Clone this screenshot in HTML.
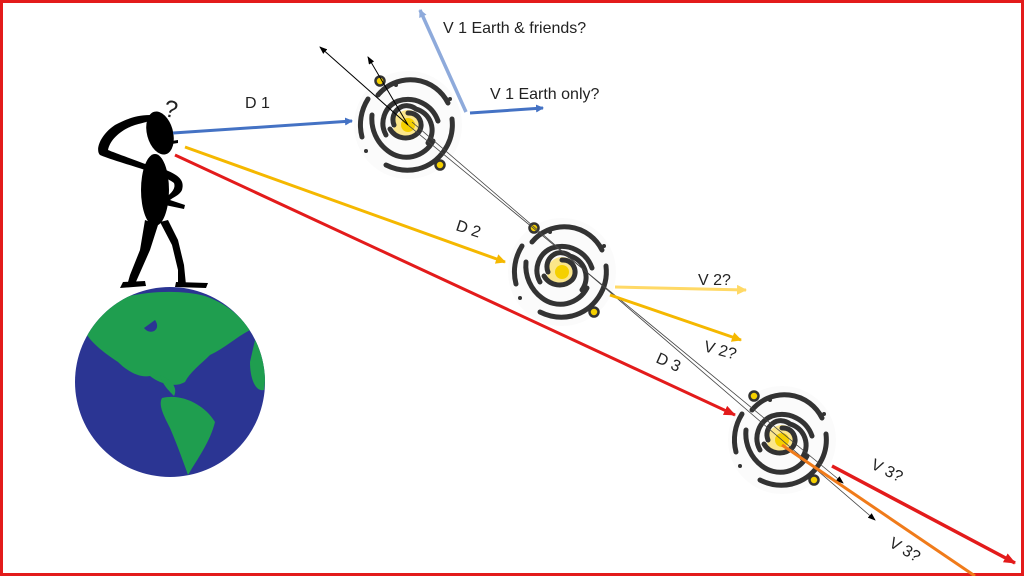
<!DOCTYPE html>
<html><head><meta charset="utf-8"><style>
html,body{margin:0;padding:0;background:#fff}
svg{display:block}
text{font-family:"Liberation Sans",sans-serif;fill:#222}
</style></head><body>
<svg width="1024" height="576" viewBox="0 0 1024 576" xmlns="http://www.w3.org/2000/svg">
<defs>
<clipPath id="ec"><circle cx="170" cy="382" r="95"/></clipPath>
<marker id="ab" markerWidth="8" markerHeight="8" refX="7" refY="4" orient="auto" markerUnits="userSpaceOnUse"><path d="M0,0 L8,4 L0,8 z" fill="#4472c4"/></marker>
<marker id="alb" markerWidth="8" markerHeight="8" refX="7" refY="4" orient="auto" markerUnits="userSpaceOnUse"><path d="M0,0 L8,4 L0,8 z" fill="#8eaadb"/></marker>
<marker id="ay" markerWidth="10" markerHeight="10" refX="9" refY="5" orient="auto" markerUnits="userSpaceOnUse"><path d="M0,0 L10,5 L0,10 z" fill="#f5b800"/></marker>
<marker id="ay2" markerWidth="10" markerHeight="10" refX="9" refY="5" orient="auto" markerUnits="userSpaceOnUse"><path d="M0,0 L10,5 L0,10 z" fill="#ffd966"/></marker>
<marker id="ar" markerWidth="12" markerHeight="10" refX="11" refY="5" orient="auto" markerUnits="userSpaceOnUse"><path d="M0,0 L12,5 L0,10 z" fill="#e31b1b"/></marker>
<marker id="ak" markerWidth="8" markerHeight="6" refX="7" refY="3" orient="auto" markerUnits="userSpaceOnUse"><path d="M0,0 L8,3 L0,6 z" fill="#000"/></marker>
<g id="gal">
<circle r="54" fill="#fbfbfb"/>
<circle r="15" fill="#fbe68a"/>
<circle r="7" fill="#f5d000"/>
<g fill="none" stroke="#333" stroke-width="5" stroke-linecap="round">
<path d="M0,-12 A12,12 0 0 1 10,8 A18,18 0 0 1 -18,4"/>
<path d="M-14,0 A14,14 0 0 1 8,-16 A22,22 0 0 1 20,18"/>
<path d="M-22,10 A24,24 0 0 1 -10,-24 A32,32 0 0 1 30,-4"/>
<path d="M25,16 A30,30 0 0 1 -20,26 A40,40 0 0 1 -36,-10"/>
<path d="M-30,-30 A42,42 0 0 1 40,-22"/>
<path d="M44,-6 A46,46 0 0 1 10,44 A48,48 0 0 1 -22,40"/>
<path d="M-46,12 A48,48 0 0 1 -40,-26"/>
</g>
<circle cx="-28" cy="-44" r="4.5" fill="#f5d000" stroke="#333" stroke-width="2.5"/>
<circle cx="32" cy="40" r="4.5" fill="#f5d000" stroke="#333" stroke-width="2.5"/>
<circle cx="-42" cy="26" r="2" fill="#333"/>
<circle cx="-12" cy="-40" r="2" fill="#333"/>
<circle cx="20" cy="40" r="2" fill="#333"/>
<circle cx="42" cy="-26" r="2" fill="#333"/>
</g>
</defs>
<rect x="1.5" y="1.5" width="1021" height="573" fill="#fff" stroke="#e31b1b" stroke-width="3"/>

<!-- earth -->
<circle cx="170" cy="382" r="95" fill="#2b3593"/>
<g clip-path="url(#ec)">
<path d="M100,305 C130,292 175,288 205,296 C225,303 240,315 250,330 C235,338 225,348 210,355 C200,365 190,372 185,382 C175,388 160,384 150,376 C140,378 128,372 118,362 C103,352 90,342 84,330 C88,318 95,310 100,305 Z" fill="#1f9e4f"/>
<path d="M160,375 C172,380 178,388 174,396 C168,390 162,384 160,375 Z" fill="#1f9e4f"/>
<path d="M162,398 C182,393 205,405 215,422 C210,442 198,458 188,475 C182,458 176,442 170,428 C164,416 158,405 162,398 Z" fill="#1f9e4f"/>
<path d="M255,340 C264,352 267,370 264,390 C256,392 250,380 250,362 Z" fill="#1f9e4f"/>
<path d="M155,320 C162,330 150,336 144,328 Z" fill="#2b3593"/>
</g>

<!-- person -->
<g fill="#000">
<ellipse cx="160" cy="133" rx="13" ry="22" transform="rotate(-15 160 133)"/>
<path d="M165,142 L178,140 L178,143 L165,145 Z"/>
<ellipse cx="155" cy="190" rx="14" ry="36"/>
<path d="M150,115 C135,115 125,120 115,125 C100,135 95,150 100,155 C112,160 130,165 145,170 L148,165 C135,160 115,153 108,150 C110,140 120,130 135,125 C145,122 150,122 152,118 Z"/>
<path d="M166,170 C178,175 185,180 182,190 C180,195 172,198 170,200 L185,205 L184,209 L165,205 L165,198 C172,193 176,188 174,183 C170,180 165,178 163,176 Z"/>
<path d="M145,220 L140,250 L130,275 L128,282 L135,284 L150,250 L158,225 Z"/>
<path d="M160,222 L172,245 L178,270 L178,285 L186,285 L184,265 L178,240 L168,220 Z"/>
<path d="M123,282 L145,281 L146,286 L120,288 Z"/>
<path d="M176,282 L208,283 L206,288 L175,287 Z"/>
</g>
<text x="165" y="117" font-size="24" transform="rotate(10 170 105)">?</text>

<use href="#gal" x="408" y="125"/>
<use href="#gal" x="562" y="272"/>
<use href="#gal" x="782" y="440"/>

<line x1="408" y1="125" x2="320" y2="47" stroke="#000" stroke-width="1" marker-end="url(#ak)"/>
<line x1="408" y1="125" x2="368" y2="57" stroke="#000" stroke-width="1" marker-end="url(#ak)"/>
<line x1="408" y1="125" x2="843" y2="483" stroke="#444" stroke-width="0.8" marker-end="url(#ak)"/>
<line x1="412" y1="122" x2="875" y2="520" stroke="#444" stroke-width="0.8" marker-end="url(#ak)"/>

<!-- coloured arrows -->
<line x1="173" y1="133" x2="352" y2="121" stroke="#4472c4" stroke-width="3" marker-end="url(#ab)"/>
<line x1="466" y1="112" x2="420" y2="10" stroke="#8eaadb" stroke-width="3.5" marker-end="url(#alb)"/>
<line x1="470" y1="113" x2="543" y2="108" stroke="#4472c4" stroke-width="3" marker-end="url(#ab)"/>
<line x1="185" y1="147" x2="505" y2="262" stroke="#f5b800" stroke-width="3" marker-end="url(#ay)"/>
<line x1="615" y1="287" x2="746" y2="290" stroke="#ffd966" stroke-width="3" marker-end="url(#ay2)"/>
<line x1="610" y1="295" x2="741" y2="340" stroke="#f5b800" stroke-width="3" marker-end="url(#ay)"/>
<line x1="175" y1="155" x2="735" y2="415" stroke="#e31b1b" stroke-width="3" marker-end="url(#ar)"/>
<line x1="832" y1="466" x2="1015" y2="563" stroke="#e31b1b" stroke-width="3.5" marker-end="url(#ar)"/>
<line x1="782" y1="445" x2="975" y2="576" stroke="#f07b1a" stroke-width="3"/>

<!-- labels -->
<text x="245" y="108" font-size="16">D 1</text>
<text x="455" y="230" font-size="16" transform="rotate(18 455 230)">D 2</text>
<text x="655" y="362" font-size="16" transform="rotate(24 655 362)">D 3</text>
<text x="443" y="33" font-size="16">V 1 Earth &amp; friends?</text>
<text x="490" y="99" font-size="16">V 1 Earth only?</text>
<text x="698" y="285" font-size="16">V 2?</text>
<text x="703" y="351" font-size="16" transform="rotate(15 703 351)">V 2?</text>
<text x="870" y="468" font-size="16" transform="rotate(26 870 468)">V 3?</text>
<text x="888" y="546" font-size="16" transform="rotate(30 888 546)">V 3?</text>
</svg>
</body></html>
